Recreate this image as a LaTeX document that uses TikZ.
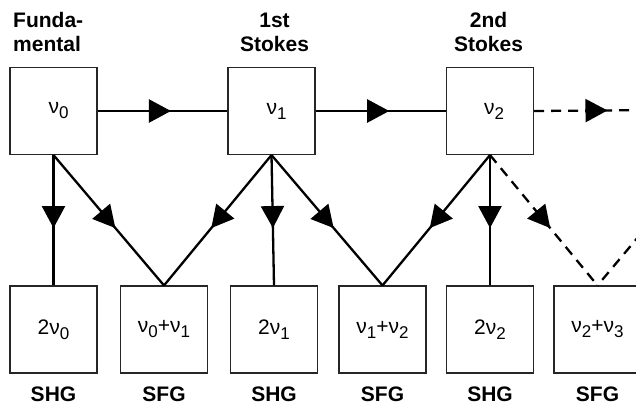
\documentclass[tikz,border=0pt]{standalone}
\usepackage{fontspec}
\setmainfont{Liberation Sans}
\usetikzlibrary{arrows.meta,decorations.markings}
\newcommand\sbs[1]{\raisebox{-5pt}{\fontsize{17}{17}\selectfont #1}}
\tikzset{
  box/.style={draw=black!85, line width=1.1pt, minimum size=87pt, inner sep=0pt,
    font=\fontsize{21}{21}\selectfont},
  conn/.style={line width=2.3pt, postaction={decorate},
    decoration={markings, mark=at position #1 with {\arrow{Triangle[length=22pt,width=23pt]}}}},
  conn/.default=0.565,
  dconn/.style={conn=#1, dash pattern=on 10pt off 7pt},
  dconn/.default=0.565,
  lbl/.style={font=\fontsize{21}{24}\selectfont\bfseries, inner sep=0pt},
}
\begin{document}
\begin{tikzpicture}[x=1pt,y=-1pt]
\useasboundingbox (0,0) rectangle (636,406);
% top labels
\node[lbl, align=left, anchor=north west] (lf) at (13,12.5) {Funda-\\mental};
\node[lbl, align=center, anchor=north] (l1) at (274.5,12.5) {1st\\Stokes};
\node[lbl, align=center, anchor=north] (l2) at (488.5,12.5) {2nd\\Stokes};
% bottom labels
\foreach \n/\x/\t in {sA/53.5/SHG, sB/164/SFG, sC/274/SHG, sD/382.5/SFG, sE/490/SHG, sF/597.5/SFG}
  \node[lbl, anchor=base] (\n) at (\x,401) {\t};
\begin{scope}
\clip (0,0) rectangle (636,406);
% top boxes
\node[box] (t0) at (53.5,111) {\hspace*{10pt}ν\sbs{0}};
\node[box] (t1) at (271.5,111) {\hspace*{10pt}ν\sbs{1}};
\node[box] (t2) at (490,111) {\hspace*{8pt}ν\sbs{2}};
\coordinate (t3w) at (664,110);
\coordinate (t3s) at (707,155);
% bottom boxes
\node[box] (bA) at (53.5,329.5) {2ν\sbs{0}};
\node[box] (bB) at (164,329.5) {ν\sbs{0}+ν\sbs{1}};
\node[box] (bC) at (274,329.5) {2ν\sbs{1}};
\node[box] (bD) at (382.5,329.5) {ν\sbs{1}+ν\sbs{2}};
\node[box] (bE) at (490,329.5) {2ν\sbs{2}};
\node[box] (bF) at (597.5,329.5) {ν\sbs{2}+ν\sbs{3}};
% horizontal connectors
\draw[conn] (t0.east) -- (t1.west);
\draw[conn] (t1.east) -- (t2.west);
\draw[dconn] (t2.east) -- (t3w);
% down connectors
\draw[conn=0.56] (t0.south) -- (bA.north);
\draw[conn=0.56] (t0.south) -- (bB.north);
\draw[conn=0.56] (t1.south) -- (bB.north);
\draw[conn=0.56] (t1.south) -- (bC.north);
\draw[conn=0.56] (t1.south) -- (bD.north);
\draw[conn=0.56] (t2.south) -- (bD.north);
\draw[conn=0.56] (t2.south) -- (bE.north);
\draw[dconn=0.56] (t2.south) -- (bF.north);
\draw[dash pattern=on 10pt off 7pt, line width=2.3pt] (t3s) -- (bF.north);
\end{scope}
\end{tikzpicture}
\end{document}
